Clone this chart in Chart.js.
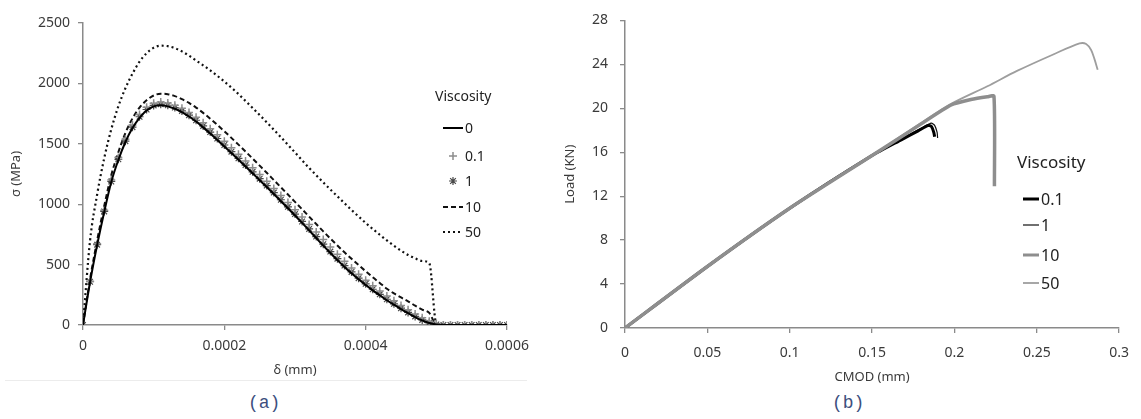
<!DOCTYPE html>
<html>
<head>
<meta charset="utf-8">
<script src="https://cdn.jsdelivr.net/npm/chart.js@4"></script>
<style>
	body { margin: 0; background: #fff; width: 1141px; height: 419px; overflow: hidden; position: relative; font-family: 'Noto Sans', sans-serif; }
	.panel { position: absolute; top: 0; }
	#wrapA { left: 0; width: 540px; height: 392px; }
	#wrapB { left: 540px; width: 601px; height: 392px; }
	.rule { position: absolute; left: 5px; top: 380px; width: 522px; height: 1px; background: #ececec; }
	.cap { position: absolute; top: 393px; font: 18px/20px 'Liberation Mono', monospace; color: #3d4f7e; }
</style>
</head>
<body>
<div class="panel" id="wrapA"><canvas id="chartA" width="540" height="392"></canvas></div>
<div class="panel" id="wrapB"><canvas id="chartB" width="601" height="392"></canvas></div>
<div class="rule"></div>
<div class="cap" style="left:248px">(a)</div>
<div class="cap" style="left:832px">(b)</div>

<script>
// Panel (a): stress vs displacement, one sample every 1e-5 mm
const deltaMm = [0, 1e-5, 2e-5, 3e-5, 4e-5, 5e-5, 6e-5, 7e-5, 8e-5, 9e-5, 10e-5,
	11e-5, 12e-5, 13e-5, 14e-5, 15e-5, 16e-5, 17e-5, 18e-5, 19e-5, 20e-5,
	21e-5, 22e-5, 23e-5, 24e-5, 25e-5, 26e-5, 27e-5, 28e-5, 29e-5, 30e-5,
	31e-5, 32e-5, 33e-5, 34e-5, 35e-5, 36e-5, 37e-5, 38e-5, 39e-5, 40e-5,
	41e-5, 42e-5, 43e-5, 44e-5, 45e-5, 46e-5, 47e-5, 48e-5, 49e-5, 50e-5,
	51e-5, 52e-5, 53e-5, 54e-5, 55e-5, 56e-5, 57e-5, 58e-5, 59e-5, 60e-5];

const sigmaV0 = [0, 356, 662, 936, 1184, 1366, 1515, 1630, 1715, 1775, 1810,
	1820, 1810, 1790, 1762, 1726, 1684, 1636, 1585, 1532, 1478,
	1423, 1368, 1312, 1256, 1199, 1142, 1084, 1025, 966, 906,
	845, 783, 720, 657, 596, 537, 481, 428, 378, 331,
	287, 246, 205, 168, 132, 98, 66, 38, 16, 4,
	0, 0, 0, 0, 0, 0, 0, 0, 0, 0];
const sigmaV01 = [0, 362, 672, 950, 1200, 1386, 1538, 1655, 1742, 1802, 1836,
	1846, 1838, 1820, 1794, 1760, 1720, 1674, 1625, 1574, 1521,
	1467, 1413, 1358, 1302, 1246, 1189, 1131, 1073, 1014, 954,
	894, 832, 770, 707, 645, 585, 527, 472, 420, 371,
	325, 282, 240, 200, 162, 126, 92, 60, 32, 10,
	0, 0, 0, 0, 0, 0, 0, 0, 0, 0];
const sigmaV1 = [0, 358, 665, 940, 1188, 1372, 1522, 1638, 1724, 1784, 1818,
	1828, 1819, 1800, 1772, 1737, 1695, 1648, 1597, 1544, 1490,
	1435, 1380, 1324, 1268, 1211, 1154, 1096, 1037, 978, 918,
	857, 795, 732, 669, 608, 549, 492, 439, 388, 341,
	296, 254, 213, 175, 139, 104, 71, 42, 18, 5,
	0, 0, 0, 0, 0, 0, 0, 0, 0, 0];
const sigmaV10 = [0, 380, 700, 985, 1240, 1430, 1590, 1710, 1800, 1860, 1900,
	1915, 1910, 1895, 1870, 1838, 1800, 1756, 1708, 1657, 1604,
	1549, 1493, 1436, 1378, 1319, 1260, 1200, 1140, 1080, 1019,
	958, 897, 836, 775, 716, 658, 602, 548, 496, 445,
	395, 348, 300, 262, 228, 196, 160, 128, 100, 3,
	0, 0, 0, 0, 0, 0, 0, 0, 0, 0];
const sigmaV50 = [0, 700, 1080, 1380, 1620, 1810, 1960, 2080, 2180, 2250, 2295,
	2312, 2308, 2292, 2265, 2230, 2190, 2150, 2108, 2063, 2015,
	1965, 1912, 1855, 1797, 1738, 1678, 1617, 1555, 1492, 1428,
	1364, 1300, 1240, 1180, 1122, 1065, 1008, 952, 898, 845,
	795, 747, 700, 656, 615, 580, 552, 530, 512, 10,
	0, 0, 0, 0, 0, 0, 0, 0, 0, 0];

const sigmaTicks = [0, 500, 1000, 1500, 2000, 2500];
const deltaTicks = [0, 0.0002, 0.0004, 0.0006];
const deltaTickLabels = ['0', '0.0002', '0.0004', '0.0006'];

// Panel (b): load vs CMOD
const cmodV01 = [0, 0.05, 0.1, 0.15, 0.168, 0.178, 0.184, 0.186, 0.1875, 0.188];
const loadV01 = [0, 5.6, 10.9, 15.7, 17.15, 17.95, 18.45, 18.35, 17.8, 17.4];
const cmodV1 = [0, 0.05, 0.1, 0.15, 0.17, 0.18, 0.186, 0.188, 0.1895, 0.1898];
const loadV1 = [0, 5.6, 10.9, 15.7, 17.4, 18.2, 18.65, 18.45, 17.8, 17.3];
const cmodV10 = [0, 0.05, 0.1, 0.15, 0.178, 0.198, 0.21, 0.22, 0.224, 0.2243];
const loadV10 = [0, 5.6, 10.9, 15.7, 18.4, 20.3, 20.8, 21.05, 21.1, 12.9];
const cmodV50 = [0, 0.05, 0.1, 0.15, 0.178, 0.198, 0.22, 0.238, 0.26, 0.276, 0.28, 0.283, 0.285, 0.287];
const loadV50 = [0, 5.6, 10.9, 15.7, 18.5, 20.4, 22.0, 23.4, 24.9, 25.9, 25.85, 25.3, 24.5, 23.5];

const loadTicks = [0, 4, 8, 12, 16, 20, 24, 28];
const cmodTicks = [0, 0.05, 0.1, 0.15, 0.2, 0.25, 0.3];
const cmodTickLabels = ['0', '0.05', '0.1', '0.15', '0.2', '0.25', '0.3'];

const AXIS_GREY = '#8a8a8a';
const TEXT = '#3a3a3a';

function pairs(xs, ys) {
	return xs.map((x, i) => ({ x, y: ys[i] }));
}

function drawMarker(ctx, style, x, y, r) {
	ctx.beginPath();
	ctx.moveTo(x - r, y); ctx.lineTo(x + r, y);
	ctx.moveTo(x, y - r); ctx.lineTo(x, y + r);
	if (style === 'star') {
		const d = r * 0.7071;
		ctx.moveTo(x - d, y - d); ctx.lineTo(x + d, y + d);
		ctx.moveTo(x - d, y + d); ctx.lineTo(x + d, y - d);
	}
	ctx.stroke();
}

// Legend drawn inside the plot, Excel style
const viscosityLegend = {
	id: 'viscosityLegend',
	afterDraw(chart, args, opts) {
		const ctx = chart.ctx;
		ctx.save();
		ctx.fillStyle = '#222';
		ctx.textBaseline = 'middle';
		ctx.font = opts.titleFont;
		ctx.fillText('Viscosity', opts.titleX, opts.titleY);
		ctx.font = opts.font;
		chart.data.datasets.forEach((ds, i) => {
			const y = opts.rows[i];
			ctx.strokeStyle = ds.borderColor;
			if (ds.showLine === false) {
				ctx.lineWidth = ds.pointBorderWidth;
				ctx.setLineDash([]);
				drawMarker(ctx, ds.pointStyle, (opts.x0 + opts.x1) / 2, y, ds.pointRadius);
			} else {
				ctx.lineWidth = Math.min(ds.borderWidth, 3);
				ctx.setLineDash(ds.borderDash || []);
				ctx.beginPath();
				ctx.moveTo(opts.x0, y);
				ctx.lineTo(opts.x1, y);
				ctx.stroke();
			}
			ctx.fillText(ds.label, opts.x1 + 2, y + 1);
		});
		ctx.restore();
	},
};

function linearAxis(min, max, tickValues, tickLabels, title, titlePad, fit) {
	return {
		type: 'linear',
		min,
		max,
		afterBuildTicks: (scale) => { scale.ticks = tickValues.map((v) => ({ value: v })); },
		afterFit: fit,
		grid: { drawOnChartArea: false, drawTicks: true, tickLength: 5, color: AXIS_GREY, lineWidth: 1.3 },
		border: { display: true, color: AXIS_GREY, width: 1.5 },
		ticks: {
			color: TEXT,
			font: { family: 'Noto Sans', size: 14 },
			padding: titlePad.tick,
			autoSkip: false,
			maxRotation: 0,
			callback: (value, index) => (tickLabels ? tickLabels[index] : String(value)),
		},
		title: {
			display: true,
			text: title,
			color: TEXT,
			font: { family: 'Noto Sans', size: 13 },
			padding: titlePad.title,
		},
	};
}

const baseOptions = {
	responsive: false,
	animation: false,
	devicePixelRatio: 1,
	events: [],
	plugins: { legend: { display: false }, tooltip: { enabled: false } },
	elements: { point: { radius: 0 } },
};

new Chart(document.getElementById('chartA'), {
	type: 'line',
	data: {
		datasets: [
			{ label: '0', data: pairs(deltaMm, sigmaV0), borderColor: '#000', borderWidth: 2, pointRadius: 0, cubicInterpolationMode: 'monotone' },
			{ label: '0.1', data: pairs(deltaMm, sigmaV01), showLine: false, borderColor: '#8d8d8d', pointStyle: 'cross', pointRadius: 4, pointBorderWidth: 1.5, pointBorderColor: '#8d8d8d' },
			{ label: '1', data: pairs(deltaMm, sigmaV1), showLine: false, borderColor: '#4a4a4a', pointStyle: 'star', pointRadius: 4, pointBorderWidth: 1.2, pointBorderColor: '#4a4a4a' },
			{ label: '10', data: pairs(deltaMm, sigmaV10), borderColor: '#111', borderWidth: 2, borderDash: [5, 3], pointRadius: 0, cubicInterpolationMode: 'monotone' },
			{ label: '50', data: pairs(deltaMm, sigmaV50), borderColor: '#111', borderWidth: 2.2, borderDash: [2, 3], pointRadius: 0, cubicInterpolationMode: 'monotone' },
		],
	},
	options: {
		...baseOptions,
		layout: { padding: { left: 0, right: 33, top: 23, bottom: 0 } },
		scales: {
			x: linearAxis(0, 0.0006, deltaTicks, deltaTickLabels, 'δ (mm)', { tick: 8, title: { bottom: 14 } }, (s) => { s.height = 67; }),
			y: linearAxis(0, 2500, sigmaTicks, null, 'σ (MPa)', { tick: 8, title: { top: 8 } }, (s) => { s.width = 83; }),
		},
		plugins: {
			...baseOptions.plugins,
			viscosityLegend: {
				titleFont: '14px "Noto Sans"', font: '14px "Noto Sans"',
				titleX: 435, titleY: 97, x0: 443, x1: 463, rows: [128, 156, 181, 207, 232],
			},
		},
	},
	plugins: [viscosityLegend],
});

new Chart(document.getElementById('chartB'), {
	type: 'line',
	data: {
		datasets: [
			{ label: '0.1', data: pairs(cmodV01, loadV01), borderColor: '#000', borderWidth: 3, order: 2, tension: 0.2 },
			{ label: '1', data: pairs(cmodV1, loadV1), borderColor: '#111', borderWidth: 1.2, order: 3, tension: 0.2 },
			{ label: '10', data: pairs(cmodV10, loadV10), borderColor: '#8e8e8e', borderWidth: 3.5, order: 0, tension: 0.2 },
			{ label: '50', data: pairs(cmodV50, loadV50), borderColor: '#9e9e9e', borderWidth: 1.8, order: 1, tension: 0.3 },
		],
	},
	options: {
		...baseOptions,
		layout: { padding: { left: 0, right: 18, top: 13, bottom: 0 } },
		scales: {
			x: linearAxis(0, 0.3, cmodTicks, cmodTickLabels, 'CMOD (mm)', { tick: 12, title: { bottom: 7 } }, (s) => { s.height = 64; }),
			y: linearAxis(0, 28, loadTicks, null, 'Load (KN)', { tick: 12, title: { top: 22 } }, (s) => { s.width = 85; }),
		},
		plugins: {
			...baseOptions.plugins,
			viscosityLegend: {
				titleFont: '17px "Noto Sans"', font: '16px "Noto Sans"',
				titleX: 477, titleY: 163, x0: 483, x1: 499, rows: [199, 225, 255, 283],
			},
		},
	},
	plugins: [viscosityLegend],
});
</script>
</body>
</html>
